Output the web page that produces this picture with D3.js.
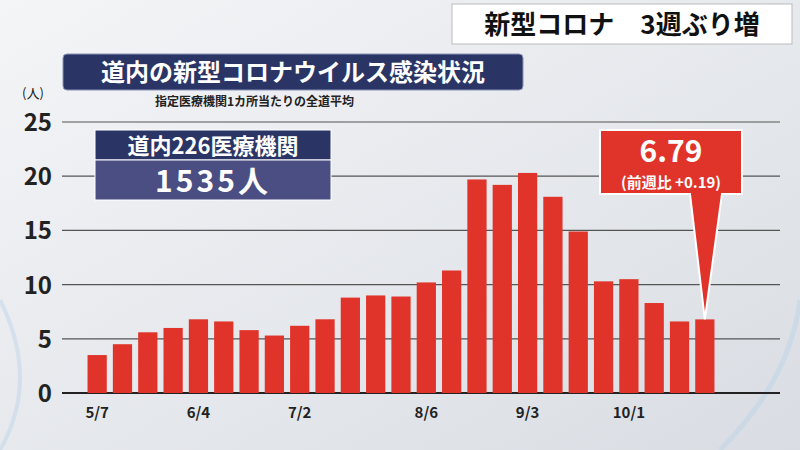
<!DOCTYPE html>
<html>
<head>
<meta charset="utf-8">
<script src="https://d3js.org/d3.v7.min.js"></script>
<style>body{margin:0}svg{display:block;font-family:"Noto Sans CJK JP",sans-serif}</style>
</head>
<body>
<script>
const dates = ["5/7","5/14","5/21","5/28","6/4","6/11","6/18","6/25","7/2","7/9","7/16","7/23","7/30","8/6","8/13","8/20","8/27","9/3","9/10","9/17","9/24","10/1","10/8","10/15","10/22"];
const values = [3.5,4.5,5.6,6.0,6.8,6.6,5.8,5.3,6.2,6.8,8.8,9.0,8.9,10.2,11.3,19.7,19.2,20.3,18.1,14.9,10.3,10.5,8.3,6.6,6.79];
const tickLabels = ["5/7","6/4","7/2","8/6","9/3","10/1"];
const yTicks = [0,5,10,15,20,25];

const W = 800, H = 450;
const svg = d3.select("body").append("svg").attr("width", W).attr("height", H);

const defs = svg.append("defs");
const bg = defs.append("linearGradient").attr("id","bg").attr("x1",0).attr("y1",0).attr("x2",1).attr("y2",1);
bg.append("stop").attr("offset","0%").attr("stop-color","#f4f5f7");
bg.append("stop").attr("offset","100%").attr("stop-color","#d9dde3");
svg.append("rect").attr("width",W).attr("height",H).attr("fill","url(#bg)");
svg.append("path").attr("d","M0,300 Q40,380 0,450").attr("stroke","#b5cfe8").attr("stroke-width",4).attr("fill","none").attr("opacity",0.4);
svg.append("path").attr("d","M720,450 Q790,380 800,300").attr("stroke","#b5cfe8").attr("stroke-width",5).attr("fill","none").attr("opacity",0.4);

const x = d3.scaleBand().domain(dates).range([85, 717]).paddingInner(0.24).paddingOuter(0.1);
const y = d3.scaleLinear().domain([0,25]).range([393,122]);

svg.append("g").selectAll("line").data(yTicks).join("line")
  .attr("x1",62).attr("x2",780).attr("y1",d=>y(d)).attr("y2",d=>y(d))
  .attr("stroke",d=>d===0?"#222":"#555").attr("stroke-width",d=>d===0?2:1.2);
svg.append("g").selectAll("text").data(yTicks).join("text")
  .attr("x",52).attr("y",d=>y(d)+9).attr("text-anchor","end")
  .attr("font-size",24).attr("font-weight","bold").attr("fill","#222").text(d=>d);
svg.append("text").attr("x",22).attr("y",98).attr("font-size",13).attr("fill","#222").text("(人)");

svg.append("g").selectAll("rect").data(values).join("rect")
  .attr("x",(d,i)=>x(dates[i])).attr("width",x.bandwidth())
  .attr("y",d=>y(d)).attr("height",d=>y(0)-y(d)).attr("fill","#e0342a");

svg.append("g").selectAll("text").data(tickLabels).join("text")
  .attr("x",d=>x(d)+x.bandwidth()/2).attr("y",418).attr("text-anchor","middle")
  .attr("font-size",15).attr("font-weight","bold").attr("fill","#222").text(d=>d);

svg.append("rect").attr("x",452).attr("y",4).attr("width",340).attr("height",40).attr("fill","#fff").attr("stroke","#bbb");
svg.append("text").attr("x",622).attr("y",34).attr("text-anchor","middle").attr("font-size",26).attr("font-weight","bold").attr("fill","#111").text("新型コロナ　3週ぶり増");

svg.append("rect").attr("x",63).attr("y",54).attr("width",460).attr("height",36).attr("rx",4).attr("fill","#2a3566").attr("stroke","#8a93b8");
svg.append("text").attr("x",293).attr("y",81).attr("text-anchor","middle").attr("font-size",24).attr("font-weight","bold").attr("fill","#fff").text("道内の新型コロナウイルス感染状況");
svg.append("text").attr("x",155).attr("y",106).attr("font-size",12).attr("font-weight","bold").attr("fill","#222").text("指定医療機関1カ所当たりの全道平均");

svg.append("rect").attr("x",95).attr("y",130).attr("width",236).attr("height",30).attr("fill","#2a3566").attr("stroke","#fff");
svg.append("text").attr("x",213).attr("y",154).attr("text-anchor","middle").attr("font-size",22).attr("font-weight","bold").attr("fill","#fff").text("道内226医療機関");
svg.append("rect").attr("x",95).attr("y",160).attr("width",236).attr("height",40).attr("fill","#4a4e82").attr("stroke","#fff");
svg.append("text").attr("x",213).attr("y",192).attr("text-anchor","middle").attr("font-size",30).attr("font-weight","bold").attr("fill","#fff").attr("letter-spacing",3).text("1535人");

const last = dates[dates.length-1];
const px = x(last)+x.bandwidth()/2, py = y(values[values.length-1]);
svg.append("path").attr("d",`M600,130 H742 V194 H722 L${px},${py} L690,194 H600 Z`).attr("fill","#e0342a").attr("stroke","#fff").attr("stroke-width",2);
svg.append("text").attr("x",671).attr("y",162).attr("text-anchor","middle").attr("font-size",30).attr("font-weight","bold").attr("fill","#fff").text("6.79");
svg.append("text").attr("x",671).attr("y",188).attr("text-anchor","middle").attr("font-size",15).attr("font-weight","bold").attr("fill","#fff").text("(前週比 +0.19)");
</script>
</body>
</html>
